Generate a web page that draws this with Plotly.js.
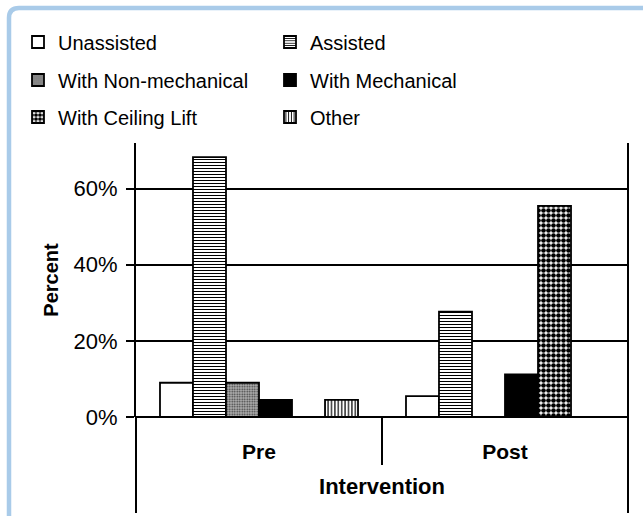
<!DOCTYPE html>
<html>
<head>
<meta charset="utf-8">
<script src="https://cdn.plot.ly/plotly-3.0.1.min.js"></script>
<style>html,body{margin:0;padding:0;background:#fff;}#chart{width:643px;height:516px;}</style>
</head>
<body>
<div id="chart"></div>
<script>
// ---- data ----
var categories = ['Pre', 'Post'];
var seriesNames = ['Unassisted', 'Assisted', 'With Non-mechanical', 'With Mechanical', 'With Ceiling Lift', 'Other'];
var unassisted = [0.090, 0.055];
var assisted = [0.683, 0.277];
var nonMechanical = [0.090, 0.0];
var mechanical = [0.045, 0.112];
var ceilingLift = [0.0, 0.555];
var other = [0.045, 0.0];
var yTickValues = [0, 0.2, 0.4, 0.6];
var xTitle = 'Intervention';
var yTitle = 'Percent';

var seriesValues = [unassisted, assisted, nonMechanical, mechanical, ceilingLift, other];

var FONT = 'Liberation Sans, Arial, sans-serif';
var styles = [
  {color: '#ffffff'},
  {color: '#ffffff', pattern: {shape: '-', fgcolor: '#000', bgcolor: '#fff', size: 3, solidity: 0.35, fillmode: 'replace'}},
  {color: '#8c8c8c', pattern: {shape: '.', fgcolor: '#3a3a3a', bgcolor: '#b4b4b4', size: 2.5, solidity: 0.4, fillmode: 'replace'}},
  {color: '#000000'},
  {color: '#ffffff', pattern: {shape: '.', fgcolor: '#000', bgcolor: '#fff', size: 5, solidity: 0.68, fillmode: 'replace'}},
  {color: '#ffffff', pattern: {shape: '|', fgcolor: '#000', bgcolor: '#fff', size: 3.4, solidity: 0.35, fillmode: 'replace'}}
];
var legendIds = ['legend', 'legend', 'legend2', 'legend2', 'legend3', 'legend3'];

var traces = seriesNames.map(function (name, i) {
  var m = {color: styles[i].color, line: {color: '#000', width: 1.8}};
  if (styles[i].pattern) m.pattern = styles[i].pattern;
  return {
    type: 'bar', name: name, x: categories, y: seriesValues[i],
    marker: m, legend: legendIds[i], hoverinfo: 'skip'
  };
});

// pixel helpers for paper coords (plot area: x 136..628, y 143..417)
var L = 136, R = 628, T = 143, B = 417;
function px(x) { return (x - L) / (R - L); }
function py(y) { return (B - y) / (B - T); }

var rx = px(19) - px(9), ry = py(8) - py(18);
var borderPath = 'M' + px(9) + ',' + py(540) +
  ' L' + px(9) + ',' + (py(8) - ry) +
  ' Q' + px(9) + ',' + py(8) + ' ' + (px(9) + rx) + ',' + py(8) +
  ' L' + px(670) + ',' + py(8);

function legendDef(yc) {
  return {
    orientation: 'h', x: px(18), xanchor: 'left', y: py(yc), yanchor: 'middle',
    entrywidth: 207, entrywidthmode: 'pixels', bgcolor: 'rgba(0,0,0,0)',
    font: {family: FONT, size: 20, color: '#000'}, traceorder: 'normal'
  };
}

var layout = {
  width: 643, height: 516,
  margin: {l: L, r: 643 - R, t: T, b: 516 - B, pad: 0},
  paper_bgcolor: '#ffffff', plot_bgcolor: '#ffffff',
  font: {family: FONT, color: '#000'},
  barmode: 'group', bargap: 0.195, bargroupgap: 0,
  showlegend: true,
  legend: legendDef(42),
  legend2: legendDef(80),
  legend3: legendDef(117),
  xaxis: {
    type: 'category', categoryorder: 'array', categoryarray: categories,
    showgrid: false, zeroline: false, showline: false, ticks: '',
    tickfont: {family: FONT, size: 21, weight: 'bold', color: '#000'},
    ticklabelstandoff: 20,
    title: {text: xTitle, font: {family: FONT, size: 22, weight: 'bold', color: '#000'}, standoff: 16},
    fixedrange: true
  },
  yaxis: {
    range: [0, 0.72], tickvals: yTickValues, tickformat: '.0%',
    showgrid: true, gridcolor: '#000', gridwidth: 2,
    zeroline: true, zerolinecolor: '#000', zerolinewidth: 2,
    showline: true, linecolor: '#000', linewidth: 2,
    ticks: 'outside', ticklen: 8, tickwidth: 2, tickcolor: '#000',
    ticklabelstandoff: 4,
    tickfont: {family: FONT, size: 22, color: '#000'},
    title: {text: yTitle, font: {family: FONT, size: 20, weight: 'bold', color: '#000'}, standoff: 10},
    fixedrange: true
  },
  shapes: [
    {type: 'path', xref: 'paper', yref: 'paper', path: borderPath, line: {color: '#a9cbe9', width: 4.5}, layer: 'above'},
    {type: 'line', xref: 'paper', yref: 'paper', x0: 0, x1: 0, y0: 0, y1: py(513), line: {color: '#000', width: 2}},
    {type: 'line', xref: 'paper', yref: 'paper', x0: 1, x1: 1, y0: 1, y1: py(513), line: {color: '#000', width: 2}},
    {type: 'line', xref: 'paper', yref: 'paper', x0: 0.5, x1: 0.5, y0: 0, y1: py(465), line: {color: '#000', width: 2}}
  ]
};

Plotly.newPlot('chart', traces, layout, {displayModeBar: false, staticPlot: true});
</script>
</body>
</html>
